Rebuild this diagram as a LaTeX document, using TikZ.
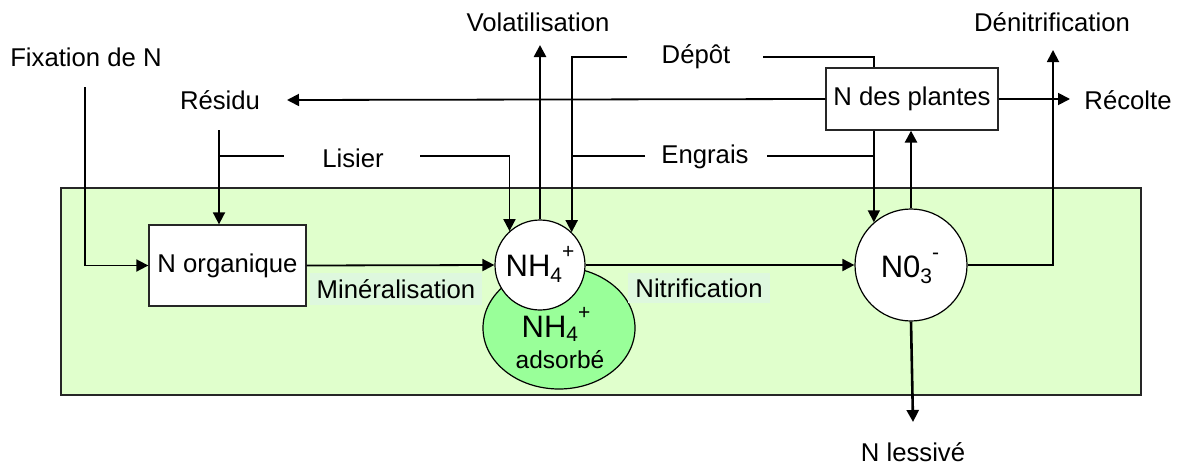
\documentclass[tikz,border=0pt]{standalone}
\usepackage{fontspec}
\setmainfont{Liberation Sans}
\usetikzlibrary{arrows.meta,shapes.geometric,calc}
\definecolor{soil}{HTML}{E0FFCC}
\definecolor{lab}{HTML}{DEF8DE}
\definecolor{adsg}{HTML}{99FF99}
\begin{document}
\begin{tikzpicture}[x=1pt,y=-1pt,
  txt/.style={font=\fontsize{25.7}{30}\selectfont, inner sep=0pt},
  boxn/.style={draw=black!85, line width=1.3pt, fill=white, font=\fontsize{25.7}{30}\selectfont, inner sep=0pt},
  lbl/.style={fill=lab, font=\fontsize{25.7}{30}\selectfont, inner xsep=7pt, inner ysep=6pt},
  ln/.style={line width=1.8pt},
  thk/.style={line width=2.6pt},
  arr/.style={-{Triangle[length=12pt,width=12pt]}}
]
\useasboundingbox (0,0) rectangle (1177,466);
% soil rectangle
\node[draw=black!85, line width=1.3pt, fill=soil, minimum width=1080pt, minimum height=207pt, inner sep=0pt] (soilbox) at (601,291.5) {};

% labels on top
\node[txt] (fix) at (86,57) {Fixation de N};
\node[txt] (res) at (220,100) {Résidu};
\node[txt] (lis) at (353,158) {Lisier};
\node[txt] (vol) at (538,22) {Volatilisation};
\node[txt] (dep) at (696,57) {Dépôt};
\node[txt] (eng) at (705,157) {Engrais};
\node[txt] (den) at (1052,22) {Dénitrification};
\node[txt] (rec) at (1128,100) {Récolte};
\node[txt] (les) at (913,452) {N lessivé};

% coordinates for free ends
\coordinate (fixS) at (85,87);
\coordinate (resS) at (219,130);
\coordinate (resT) at (287,100);
\coordinate (lisL) at (219,156);
\coordinate (lisA) at (284,156);
\coordinate (lisB) at (420,156);
\coordinate (depA) at (627,57);
\coordinate (depB) at (763,57);
\coordinate (engA) at (645,156);
\coordinate (engB) at (767,156);
\coordinate (volT) at (540,45);
\coordinate (denT) at (1053,50);
\coordinate (recT) at (1070,99);
\coordinate (lesT) at (913,422);

% adsorbed ellipse (below NH4 circle)
\node[draw=black, line width=1.2pt, fill=adsg, ellipse, minimum width=152pt, minimum height=122pt, inner sep=0pt] (ads) at (559,328) {};
\node[inner sep=0pt, anchor=base] (adsnh) at (556,337) {\fontsize{31}{32}\selectfont NH\raisebox{-4pt}{\fontsize{21}{21}\selectfont 4}\raisebox{18pt}{\fontsize{21}{21}\selectfont +}};
\node[inner sep=0pt, anchor=base] (adstxt) at (560,368) {\fontsize{24.5}{26}\selectfont adsorbé};

% circles and boxes
\node[draw=black, line width=1.2pt, fill=white, circle, minimum size=90pt, inner sep=0pt] (nh4) at (540,265) {};
\node[inner sep=0pt, anchor=base] (nh4t) at (540,276) {\fontsize{31}{32}\selectfont NH\raisebox{-6pt}{\fontsize{21}{21}\selectfont 4}\raisebox{18pt}{\fontsize{21}{21}\selectfont +}};
\node[draw=black, line width=1.2pt, fill=white, circle, minimum size=112pt, inner sep=0pt] (no3) at (911,265) {};
\node[inner sep=0pt, anchor=base] (no3t) at (910,277) {\fontsize{31}{32}\selectfont N0\raisebox{-6pt}{\fontsize{21}{21}\selectfont 3}\raisebox{18pt}{\fontsize{21}{21}\selectfont -}};
\node[boxn, minimum width=157pt, minimum height=81pt] (org) at (227.5,265.5) {N organique};

% labels on soil
\node[lbl] (min) at (396,289) {Minéralisation};
\node[lbl] (nit) at (699,288) {Nitrification};

% connectors
\draw[ln,arr] (fixS) |- (org.west);
\draw[ln,arr] (resS) -- (resS |- org.north);
\draw[ln] (lisL) -- (lisA);
\draw[ln,arr] (lisB) -- (lisB -| nh4.132) -- (nh4.132);
\draw[thk,arr] (nh4.north) -- (volT);
\draw[ln,arr] (depA) -- (depA -| nh4.46) -- (nh4.46);
\draw[ln] (engA) -- (engA -| nh4.46);
\draw[ln,arr] (depB) -- (depB -| no3.131) -- (no3.131);
\draw[ln] (engB) -- (engB -| no3.131);
\draw[ln,arr] (org.east) -- (nh4.west);
\draw[ln,arr] (nh4.east) -- (no3.west);
\draw[ln,arr] (no3.east) -| (denT);
\draw[thk,arr] (no3.south) -- (lesT);

% plant box on top of the vertical line
\node[boxn, minimum width=172pt, minimum height=62pt] (plantes) at (912,99) {N des plantes};
\draw[ln,arr] (plantes.west) -- (resT);
\draw[ln,arr] (plantes.east) -- (recT);
\draw[thk,arr] (no3.north) -- (no3.north |- plantes.south);
\end{tikzpicture}
\end{document}
